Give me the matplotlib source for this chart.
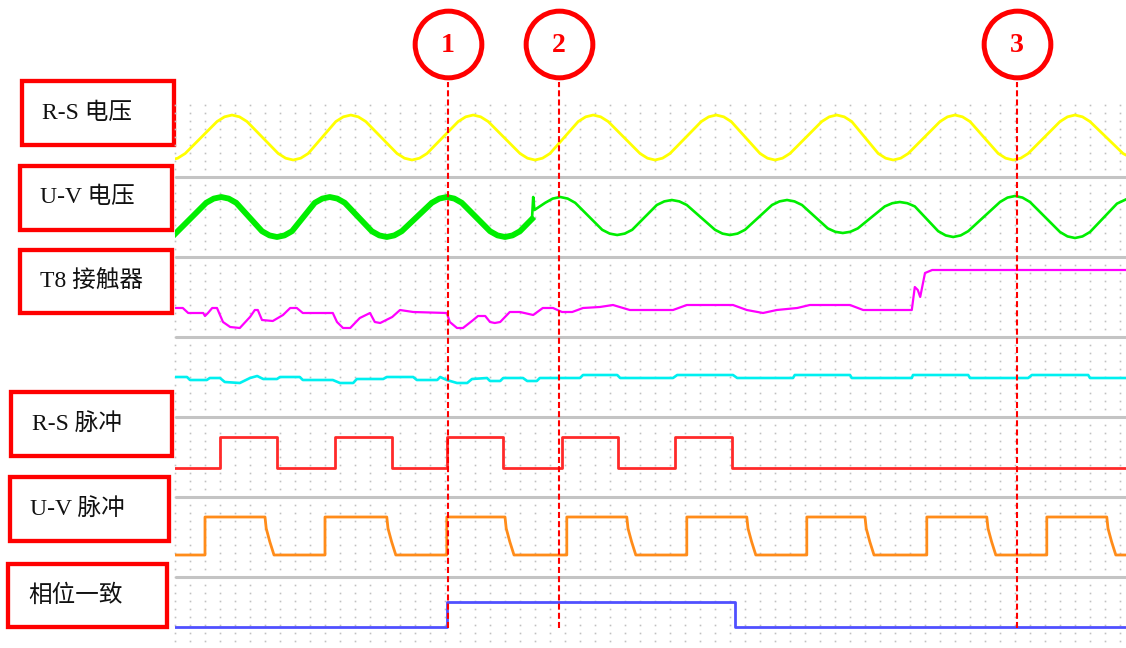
import matplotlib.pyplot as plt
from matplotlib.patches import Rectangle
import numpy as np

plt.rcParams['font.family'] = ['Liberation Serif', 'Noto Sans CJK SC', 'DejaVu Sans']

# channel names on the left (top to bottom)
labels = ['R-S 电压', 'U-V 电压', 'T8 接触器', 'R-S 脉冲', 'U-V 脉冲', '相位一致']

# time in ms over the recorder window
t_end = 158.5

# R-S voltage, normalised
rs_volt_t = [0.0, 0.45, 1.7,
             7.0, 8.25, 9.5, 10.75, 12.0,
             17.2, 18.45, 19.7, 20.95, 22.2,
             26.8, 28.05, 29.3, 30.55, 31.8,
             37.0, 38.25, 39.5, 40.75, 42.0,
             47.2, 48.45, 49.7, 50.95, 52.2,
             57.5, 58.75, 60.0, 61.25, 62.5,
             67.2, 68.45, 69.7, 70.95, 72.2,
             77.5, 78.75, 80.0, 81.25, 82.5,
             87.7, 88.95, 90.2, 91.45, 92.7,
             97.5, 98.75, 100.0, 101.25, 102.5,
             107.8, 109.05, 110.3, 111.55, 112.8,
             117.2, 118.45, 119.7, 120.95, 122.2,
             127.5, 128.75, 130.0, 131.25, 132.5,
             137.2, 138.45, 139.7, 140.95, 142.2,
             147.5, 148.75, 150.0, 151.25, 152.5,
             158.0, 158.5]
rs_volt_v = [-0.95, -0.92, -0.71,
             0.71, 0.92, 1.0, 0.92, 0.71,
             -0.71, -0.92, -1.0, -0.92, -0.71,
             0.71, 0.92, 1.0, 0.92, 0.71,
             -0.71, -0.92, -1.0, -0.92, -0.71,
             0.71, 0.92, 1.0, 0.92, 0.71,
             -0.71, -0.92, -1.0, -0.92, -0.71,
             0.71, 0.92, 1.0, 0.92, 0.71,
             -0.71, -0.92, -1.0, -0.92, -0.71,
             0.71, 0.92, 1.0, 0.92, 0.71,
             -0.71, -0.92, -1.0, -0.92, -0.71,
             0.71, 0.92, 1.0, 0.92, 0.71,
             -0.71, -0.92, -1.0, -0.92, -0.71,
             0.71, 0.92, 1.0, 0.92, 0.71,
             -0.71, -0.92, -1.0, -0.92, -0.71,
             0.71, 0.92, 1.0, 0.92, 0.71,
             -0.71, -0.78]

# U-V voltage, normalised (noisy until the glitch)
uv_volt_t = [0.0,
             5.2, 6.45, 7.7, 8.95, 10.2,
             14.5, 15.75, 17.0, 18.25, 19.5,
             23.3, 24.55, 25.8, 27.05, 28.3,
             32.8, 34.05, 35.3, 36.55, 37.8,
             42.8, 44.05, 45.3, 46.55, 47.8,
             52.5, 53.75, 55.0, 56.25, 57.5,
             59.5, 59.7, 59.9,
             61.7, 62.95, 64.2, 65.45, 66.7,
             71.2, 72.45, 73.7, 74.95, 76.2,
             80.3, 81.55, 82.8, 84.05, 85.3,
             90.0, 91.25, 92.5, 93.75, 95.0,
             99.5, 100.75, 102.0, 103.25, 104.5,
             108.8, 110.05, 111.3, 112.55, 113.8,
             118.3, 119.55, 120.8, 122.05, 123.3,
             127.2, 128.45, 129.7, 130.95, 132.2,
             137.5, 138.75, 140.0, 141.25, 142.5,
             147.5, 148.75, 150.0, 151.25, 152.5,
             157.0, 158.5]
uv_volt_v = [-0.85,
             0.71, 0.92, 1.0, 0.92, 0.71,
             -0.71, -0.92, -1.0, -0.92, -0.71,
             0.71, 0.92, 1.0, 0.92, 0.71,
             -0.71, -0.92, -1.0, -0.92, -0.71,
             0.71, 0.92, 1.0, 0.92, 0.71,
             -0.71, -0.92, -1.0, -0.92, -0.71,
             -0.1, 1.0, 0.35,
             0.71, 0.92, 1.0, 0.92, 0.71,
             -0.64, -0.83, -0.9, -0.83, -0.64,
             0.6, 0.78, 0.85, 0.78, 0.6,
             -0.64, -0.83, -0.9, -0.83, -0.64,
             0.6, 0.78, 0.85, 0.78, 0.6,
             -0.57, -0.74, -0.8, -0.74, -0.57,
             0.53, 0.69, 0.75, 0.69, 0.53,
             -0.71, -0.92, -1.0, -0.92, -0.71,
             0.75, 0.97, 1.05, 0.97, 0.75,
             -0.75, -0.97, -1.05, -0.97, -0.75,
             0.67, 0.88]
uv_noisy_end = 59.5

# T8 contactor signal
t8_t = [0, 1.3, 2.2, 4.7, 5.0, 5.5, 6.2, 7.0, 8.0, 9.2, 10.8, 12.5, 13.3, 13.8,
        14.5, 16.3, 18.0, 19.2, 20.3, 21.3, 26.3, 27.0, 28.0, 29.2, 30.8, 32.5,
        33.3, 34.2, 36.2, 37.5, 39.7, 45.3, 45.8, 47.0, 48.0, 49.7, 50.5, 51.7,
        52.5, 53.3, 54.2, 55.8, 57.5, 59.7, 61.3, 63.0, 64.5, 66.2, 68.0, 70.8,
        73.0, 75.8, 83.0, 85.3, 93.0, 95.3, 98.0, 100.3, 103.7, 105.8, 112.5,
        114.7, 122.8, 123.3, 123.8, 124.2, 125.0, 126.2, 158.5]
t8_v = [0.5, 0.5, 0, 0, -0.3, 0, 0.5, 0.5, -0.9, -1.4, -1.5, -0.4, 0.3, 0.3,
        -0.7, -0.8, -0.2, 0.5, 0.5, 0, 0, -0.9, -1.5, -1.5, -0.5, 0,
        -0.9, -1.0, -0.4, 0.3, 0.1, 0, -0.9, -1.5, -1.5, -0.7, -0.3, -0.3,
        -0.9, -1.0, -0.9, 0.1, 0.1, -0.2, 0.5, 0.5, 0.1, 0.1, 0.5, 0.6,
        0.8, 0.3, 0.3, 0.8, 0.8, 0.3, 0, 0.3, 0.5, 0.8, 0.8,
        0.3, 0.3, 2.6, 2.3, 1.6, 4.0, 4.3, 4.3]

# unlabelled cyan channel
aux_t = [0, 2.0, 2.5, 5.3, 5.8, 7.5, 8.3, 10.8, 12.5, 13.7, 14.7, 17.0, 17.5,
         20.8, 21.3, 26.3, 27.5, 29.7, 30.3, 34.7, 35.3, 39.7, 40.3, 43.7, 44.2,
         45.3, 47.0, 48.7, 49.5, 52.0, 52.5, 54.2, 54.7, 58.0, 58.7, 60.3, 60.8,
         67.5, 68.0, 73.7, 74.2, 83.0, 83.7, 93.0, 93.7, 103.0, 103.3, 112.5,
         112.8, 122.8, 123.0, 132.2, 132.5, 142.2, 142.8, 152.2, 152.5, 158.5]
aux_v = [0.1, 0.1, -0.2, -0.2, 0, 0, -0.4, -0.5, 0, 0.2, -0.1, -0.1, 0.1,
         0.1, -0.2, -0.2, -0.5, -0.5, -0.1, -0.1, 0.1, 0.1, -0.2, -0.2, 0.1,
         -0.2, -0.5, -0.5, -0.1, 0, -0.3, -0.3, 0, 0, -0.3, -0.3, 0,
         0, 0.3, 0.3, 0, 0, 0.3, 0.3, 0, 0, 0.3, 0.3,
         0, 0, 0.3, 0.3, 0, 0, 0.3, 0.3, 0, 0]

# R-S pulse (logic)
rs_pulse_t = [0, 7.5, 17.0, 26.7, 36.2, 45.3, 54.7, 64.5, 73.8, 83.3, 92.8, 158.5]
rs_pulse_v = [0, 1, 0, 1, 0, 1, 0, 1, 0, 1, 0, 0]

# U-V pulse edges
uv_rise = [5.0, 25.0, 45.3, 65.3, 85.3, 105.3, 125.3, 145.3]
uv_fall = [15.0, 35.3, 55.0, 75.3, 95.3, 115.0, 135.3, 155.3]

# phase match signal
phase_t = [0, 45.3, 93.3, 158.5]
phase_v = [0, 1, 0, 0]

# event markers
marker_t = [45.5, 64.0, 140.3]
marker_lbl = ['1', '2', '3']

# ---- layout: y unit = 8 px, channel (offset, gain)
rs_volt_pos = (63.81, 2.81)
uv_volt_pos = (53.875, 2.5)
t8_pos = (41.875, 1.25)
aux_pos = (33.75, 1.25)
rs_pulse_pos = (22.5, 3.875)
uv_pulse_pos = (11.625, 4.75)
phase_pos = (2.625, 3.125)
separators = [58.875, 48.875, 38.875, 28.875, 18.875, 8.875]

fig = plt.figure(figsize=(11.26, 6.48), dpi=100)
lab = fig.add_axes([0, 0, 1, 1])
lab.set_xlim(0, 1126)
lab.set_ylim(648, 0)
lab.axis('off')

ax = fig.add_axes([175 / 1126, 0, 951 / 1126, 1])
ax.set_xlim(0, t_end)
ax.set_ylim(0, 81)
ax.axis('off')

# dotted grid
gx, gy = np.meshgrid(np.arange(0, t_end, 2.5), np.arange(0.875, 68, 1.0))
ax.plot(gx.ravel(), gy.ravel(), 's', ms=1.2, mew=0, color='#c0c0c0', zorder=1, clip_on=False)
ax.hlines(separators, 0, t_end, colors='#c4c4c4', lw=2.2, zorder=2)


def place(v, pos):
    return pos[0] + pos[1] * np.asarray(v, dtype=float)


ax.plot(rs_volt_t, place(rs_volt_v, rs_volt_pos), color='#ffff00', lw=2.0, zorder=3)

uvt = np.array(uv_volt_t)
uvv = place(uv_volt_v, uv_volt_pos)
noisy = uvt <= uv_noisy_end
clean = uvt >= uv_noisy_end
ax.plot(uvt[noisy], uvv[noisy], color='#00ee00', lw=4.2, zorder=3, solid_joinstyle='round')
ax.plot(uvt[clean], uvv[clean], color='#00ee00', lw=1.9, zorder=3)

ax.plot(t8_t, place(t8_v, t8_pos), color='#ff00ff', lw=1.6, zorder=3)
ax.plot(aux_t, place(aux_v, aux_pos), color='#00f0f0', lw=1.9, zorder=3)
ax.plot(rs_pulse_t, place(rs_pulse_v, rs_pulse_pos), color='#ff2a2a', lw=2.0,
        drawstyle='steps-post', zorder=3)

ut, uv = [0], [0]
for r, f in zip(uv_rise, uv_fall):
    ut += [r, r, f, f + 0.2, f + 0.8, f + 1.5]
    uv += [0, 1, 1, 0.7, 0.35, 0]
ut.append(t_end)
uv.append(0)
ax.plot(ut, place(uv, uv_pulse_pos), color='#ff8c1a', lw=2.0, zorder=3)

ax.plot(phase_t, place(phase_v, phase_pos), color='#5050ff', lw=2.0,
        drawstyle='steps-post', zorder=3)

# event markers
ax.vlines(marker_t, 2.5, 70.75, colors='#ff0000', linestyles=(0, (2.9, 1.5)), lw=1.5, zorder=4)
for m, s in zip(marker_t, marker_lbl):
    ax.plot(m, 75.5, 'o', ms=48, mfc='white', mec='#ff0000', mew=3.6, zorder=5, clip_on=False)
    ax.text(m, 75.3, s, ha='center', va='center', fontsize=20, fontweight='bold',
            color='#ff0000', family='Liberation Serif', zorder=6)

# label boxes
box_edges = [(21.7, 81.2, 173.7, 145.3), (19.5, 165.5, 172, 229.7), (19.5, 249.8, 172, 313.2),
             (11.3, 392, 172, 456.2), (9.5, 477.2, 168.8, 540.5), (7.5, 563.8, 167.2, 627.2)]
text_x = [42, 40, 40, 32, 30, 28]
for (x0, y0, x1, y1), tx, name in zip(box_edges, text_x, labels):
    lab.add_patch(Rectangle((x0, y0), x1 - x0, y1 - y0, fill=False, ec='#ff0000', lw=3.1))
    lab.text(tx, (y0 + y1) / 2, name, ha='left', va='center', fontsize=17, color='#111111')

fig.savefig('out.png', dpi=100)
